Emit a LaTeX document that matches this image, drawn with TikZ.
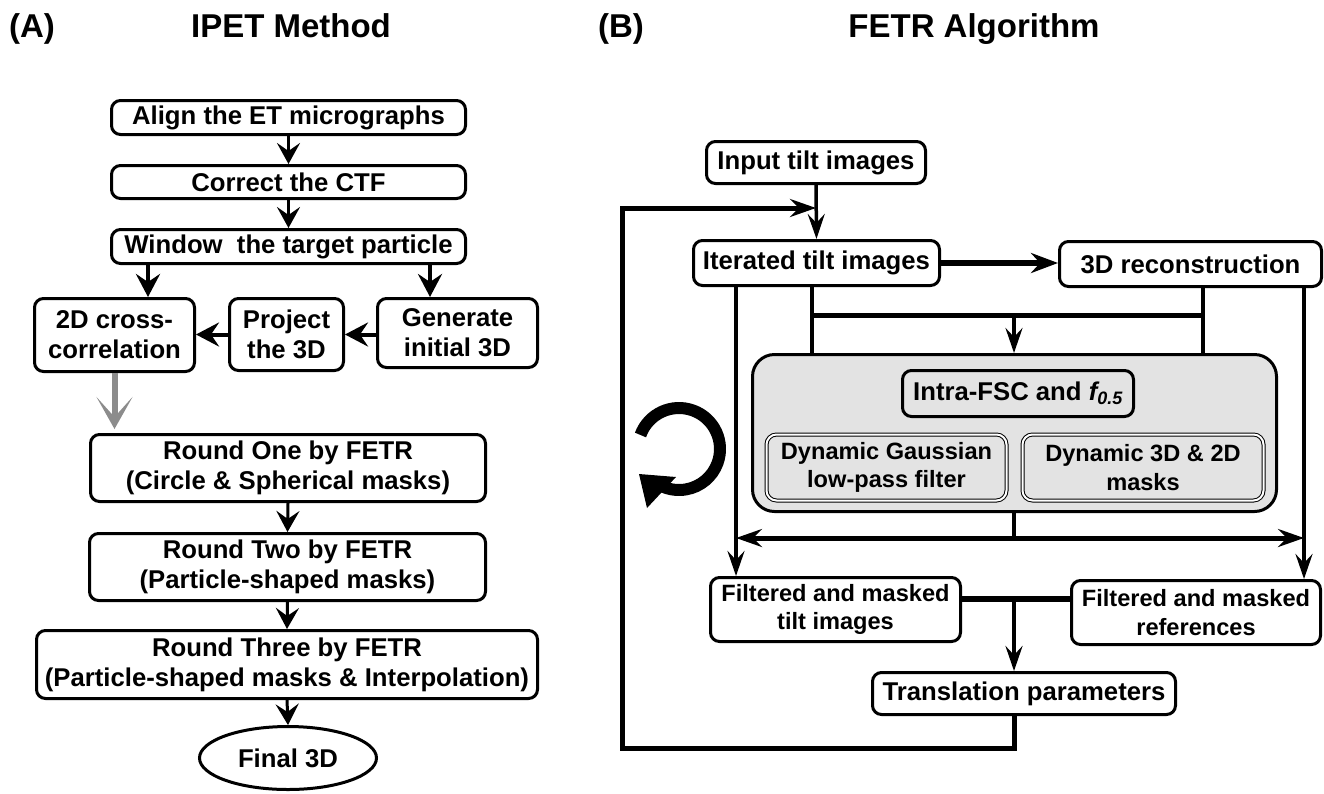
\documentclass[tikz,border=0pt]{standalone}
\usepackage{fontspec}
\setmainfont{Liberation Sans}
\usetikzlibrary{arrows.meta,shapes.geometric,calc}
\begin{document}
\begin{tikzpicture}[x=1pt,y=-1pt,
 ft/.style={font=\fontsize{25.7}{29}\selectfont\bfseries},
 ft2/.style={font=\fontsize{25.7}{30}\selectfont\bfseries},
 fs/.style={font=\fontsize{23.6}{28.5}\selectfont\bfseries},
 box/.style={draw,line width=3pt,rounded corners=9pt,align=center,inner sep=0pt,ft},
 dbox/.style={draw,double,line width=1pt,double distance=2pt,rounded corners=10pt,align=center,inner sep=0pt,fs,fill=black!11},
 titl/.style={font=\fontsize{33}{38}\selectfont\bfseries,anchor=base},
 arrL/.style={line width=4pt,-{Stealth[length=23pt,width=24pt,inset=8pt]}},
 arrS/.style={line width=3pt,-{Stealth[length=21pt,width=23pt,inset=8pt]}},
 arrR/.style={line width=3.5pt,-{Stealth[length=25pt,width=17pt,inset=9pt]}},
 tipR/.tip={Stealth[length=26pt,width=18pt,inset=9pt]},
]
\useasboundingbox (0,0) rectangle (1324,793);

% titles
\node[titl] (tA) at (32,37) {(A)};
\node[titl] (tIP) at (291,37) {IPET Method};
\node[titl] (tB) at (621,37) {(B)};
\node[titl] (tFE) at (974,37) {FETR Algorithm};

% ---------- Panel A ----------
\node[box,minimum width=354pt,minimum height=34pt] (align) at (288.5,117.5) {Align the ET micrographs};
\node[box,minimum width=354pt,minimum height=33pt] (ctf) at (288.5,182) {Correct the CTF};
\node[box,minimum width=354pt,minimum height=34pt] (win) at (288.5,246.5) {Window\ \ the target particle};
\node[box,ft2,minimum width=160pt,minimum height=73pt] (cross) at (114.5,335) {2D cross-\\correlation};
\node[box,ft2,minimum width=114pt,minimum height=72pt] (proj) at (286.5,334.5) {Project\\the 3D};
\node[box,ft2,minimum width=160pt,minimum height=69pt] (gen) at (457.5,333) {Generate\\initial 3D};
\node[box,ft2,minimum width=395pt,minimum height=67pt] (r1) at (288,468) {Round One by FETR\\(Circle \& Spherical masks)};
\node[box,ft2,minimum width=396pt,minimum height=67pt] (r2) at (287.5,567) {Round Two by FETR\\(Particle-shaped masks)};
\node[box,ft2,minimum width=501pt,minimum height=68pt] (r3) at (287,664.5) {Round Three by FETR\\(Particle-shaped masks \& Interpolation)};
\node[ellipse,draw,line width=3pt,minimum width=177pt,minimum height=63pt,inner sep=0pt,ft] (fin) at (288,758) {Final 3D};

\coordinate (wA) at (148,0);
\coordinate (wB) at (430,0);
\draw[arrS] (align.south) -- (ctf.north);
\draw[arrS] (ctf.south) -- (win.north);
\draw[arrL] (win.south -| wA) -- (cross.north -| wA);
\draw[arrL] (win.south -| wB) -- (gen.north -| wB);
\draw[arrL] (gen.west |- proj.west) -- (proj.east);
\draw[arrL] (proj.west) -- (cross.east |- proj.west);
\draw[line width=6pt,black!45,-{Stealth[length=32pt,width=36pt,inset=20pt]},shorten >=4pt] (cross.south) -- (cross.south |- r1.north);
\draw[arrS] (r1.south) -- (r2.north);
\draw[arrS] (r2.south) -- (r3.north);
\draw[arrS] (r3.south) -- (fin.north);

% ---------- Panel B ----------
\node[box,minimum width=219pt,minimum height=42pt] (inp) at (816,162.5) {Input tilt images};
\node[box,minimum width=246pt,minimum height=45pt] (itr) at (816.5,263) {Iterated tilt images};
\node[box,minimum width=262pt,minimum height=45pt] (rec) at (1190.5,264) {3D reconstruction};
\node[draw,line width=3pt,rounded corners=22pt,fill=black!11,minimum width=524pt,minimum height=157pt] (gb) at (1014.5,433) {};
\node[box,fill=black!11,minimum width=231pt,minimum height=46pt] (fsc) at (1018,393.5) {Intra-FSC and {\itshape f\textsubscript{0.5}}};
\node[dbox,minimum width=240pt,minimum height=66pt] (gau) at (886.5,467.5) {Dynamic Gaussian\\low-pass filter};
\node[dbox,minimum width=241pt,minimum height=66pt] (msk) at (1143,467.5) {Dynamic 3D \& 2D\\masks};
\node[box,fs,minimum width=250pt,minimum height=64pt] (ftl) at (835.5,609.5) {Filtered and masked\\tilt images};
\node[box,fs,minimum width=249pt,minimum height=64pt] (frf) at (1196,612.5) {Filtered and masked\\references};
\node[box,minimum width=303pt,minimum height=42pt] (trn) at (1024,693.5) {Translation parameters};

\coordinate (lpT) at (622,208);
\coordinate (lpB) at (622,748);
\coordinate (xm) at (1014,0);
\coordinate (xa) at (736,0);
\coordinate (xb) at (812,0);
\coordinate (xc) at (1203,0);
\coordinate (xd) at (1304,0);
\coordinate (yh) at (0,315);
\coordinate (yd) at (0,538);
\coordinate (J) at (1014,599);

\draw[arrR] (inp.south) -- (itr.north);
\draw[line width=5pt,-tipR] (trn.south -| xm) -- (xm |- lpB) -- (lpB) -- (lpT) -- (inp.south |- lpT);
\draw[line width=6pt,-{Stealth[length=27pt,width=20pt,inset=9pt]}] (itr.east) -- (rec.west |- itr.east);
\draw[arrR] (itr.south -| xa) -- (ftl.north -| xa);
\draw[line width=3.5pt] (itr.south -| xb) -- (gb.north -| xb);
\draw[line width=3.5pt] (rec.south -| xc) -- (gb.north -| xc);
\draw[line width=5pt] (xb |- yh) -- (xc |- yh);
\draw[arrR] (xm |- yh) -- (gb.north -| xm);
\draw[arrR] (rec.south -| xd) -- (frf.north -| xd);
\draw[line width=4pt] (gb.south -| xm) -- (xm |- yd);
\draw[line width=5pt,tipR-tipR] (xa |- yd) -- (xd |- yd);
\draw[line width=6pt] (ftl.east |- J) -- (frf.west |- J);
\draw[arrR] (J) -- (trn.north -| J);

% circular arrow
\draw[line width=12pt] (679,449) ++(-160:41) arc[start angle=-160,end angle=114,radius=41];
\fill (639,474) -- (676,477) -- (647,508) -- cycle;
\end{tikzpicture}
\end{document}
